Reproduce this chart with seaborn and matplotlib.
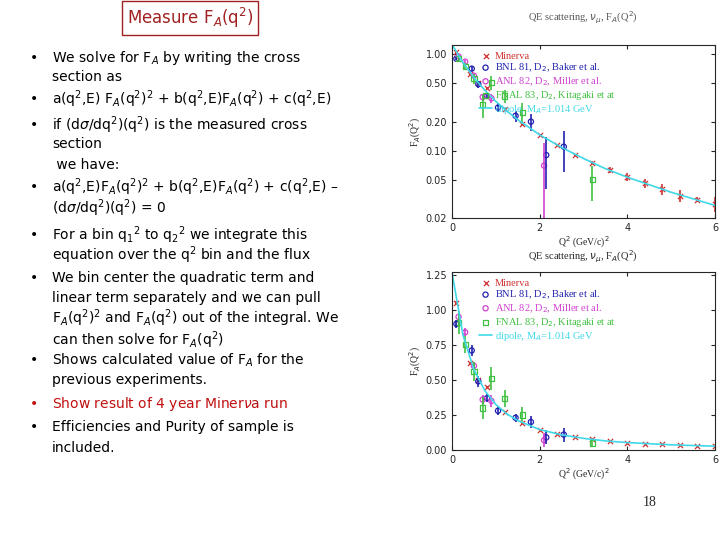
import numpy as np
import pandas as pd
import seaborn as sns
import matplotlib.pyplot as plt

sns.set_style("ticks")
plt.rcParams['font.family'] = ['DejaVu Sans']

# dipole curve, M_A = 1.014 GeV
dip_q2 = [0, 0.25, 0.5, 0.75, 1.0, 1.25, 1.5, 2.0, 2.5, 3.0, 3.5, 4.0, 5.0, 6.0]
dip_fa = [1.267, 0.820, 0.574, 0.423, 0.325, 0.258, 0.210, 0.146, 0.108, 0.083, 0.065, 0.053, 0.037, 0.027]

min_q2 = [0.1, 0.4, 0.6, 0.8, 1.2, 1.6, 2.0, 2.4, 2.8, 3.2, 3.6, 4.0, 4.4, 4.8, 5.2, 5.6, 6.0]
min_fa = [1.05, 0.62, 0.50, 0.45, 0.27, 0.19, 0.145, 0.115, 0.09, 0.075, 0.063, 0.053, 0.046, 0.040, 0.034, 0.031, 0.028]
min_err = [0.01, 0.01, 0.01, 0.01, 0.005, 0.004, 0.003, 0.003, 0.003, 0.003, 0.004, 0.005, 0.005, 0.005, 0.005, 0.002, 0.005]

bnl_q2 = [0.1, 0.45, 0.6, 0.8, 1.05, 1.45, 1.8, 2.15, 2.55]
bnl_fa = [0.90, 0.71, 0.49, 0.37, 0.28, 0.23, 0.20, 0.09, 0.11]
bnl_err = [0.03, 0.04, 0.04, 0.03, 0.03, 0.03, 0.04, 0.05, 0.05]

anl_q2 = [0.15, 0.3, 0.5, 0.7, 0.9, 2.1]
anl_fa = [0.95, 0.84, 0.60, 0.36, 0.35, 0.07]
anl_err = [0.03, 0.03, 0.03, 0.03, 0.04, 0.05]

fnal_q2 = [0.15, 0.3, 0.5, 0.7, 0.9, 1.2, 1.6, 3.2]
fnal_fa = [0.91, 0.75, 0.56, 0.30, 0.51, 0.37, 0.25, 0.05]
fnal_err = [0.08, 0.06, 0.07, 0.08, 0.08, 0.06, 0.06, 0.02]

series = [
    ("Minerva", min_q2, min_fa, min_err, "x", "#d03030"),
    (r"BNL 81, D$_2$, Baker et al.", bnl_q2, bnl_fa, bnl_err, "o", "#2020b0"),
    (r"ANL 82, D$_2$, Miller et al.", anl_q2, anl_fa, anl_err, "o", "#d040d0"),
    (r"FNAL 83, D$_2$, Kitagaki et at", fnal_q2, fnal_fa, fnal_err, "s", "#40c040"),
]
leg_colors = ["#d03030", "#2020b0", "#d040d0", "#40c040", "#40d8e8"]

fig = plt.figure(figsize=(7.2, 5.4), dpi=100)

# ---- left text block ----
fig.text(190 / 720, 1 - 18 / 540, r"Measure F$_A$(q$^2$)", color="#a02020", fontsize=12,
         ha="center", va="center",
         bbox=dict(boxstyle="square,pad=0.3", fc="white", ec="#a02020", lw=1))

lines = [
    (58, True, r"We solve for F$_A$ by writing the cross", "black"),
    (77, False, "section as", "black"),
    (99, True, r"a(q$^2$,E) F$_A$(q$^2$)$^2$ + b(q$^2$,E)F$_A$(q$^2$) + c(q$^2$,E)", "black"),
    (125, True, r"if (d$\sigma$/dq$^2$)(q$^2$) is the measured cross", "black"),
    (144, False, "section", "black"),
    (165, False, " we have:", "black"),
    (187, True, r"a(q$^2$,E)F$_A$(q$^2$)$^2$ + b(q$^2$,E)F$_A$(q$^2$) + c(q$^2$,E) –", "black"),
    (208, False, r"(d$\sigma$/dq$^2$)(q$^2$) = 0", "black"),
    (235, True, r"For a bin q$_1$$^2$ to q$_2$$^2$ we integrate this", "black"),
    (255, False, r"equation over the q$^2$ bin and the flux", "black"),
    (278, True, "We bin center the quadratic term and", "black"),
    (298, False, "linear term separately and we can pull", "black"),
    (318, False, r"F$_A$(q$^2$)$^2$ and F$_A$(q$^2$) out of the integral. We", "black"),
    (340, False, r"can then solve for F$_A$(q$^2$)", "black"),
    (360, True, r"Shows calculated value of F$_A$ for the", "black"),
    (380, False, "previous experiments.", "black"),
    (404, True, r"Show result of 4 year Miner$\nu$a run", "#c01010"),
    (427, True, "Efficiencies and Purity of sample is", "black"),
    (448, False, "included.", "black"),
]
for y, bullet, txt, col in lines:
    if bullet:
        fig.text(30 / 720, 1 - y / 540, "•", fontsize=10, color=col, va="center")
    fig.text(52 / 720, 1 - y / 540, txt, fontsize=10, color=col, va="center")

fig.text(650 / 720, 1 - 503 / 540, "18", fontsize=10, family="Liberation Serif",
         ha="center", va="center")


def draw_panel(ax):
    for name, q, f, e, m, c in series:
        ax.errorbar(q, f, yerr=e, fmt="none", ecolor=c, elinewidth=1.2)
        sns.scatterplot(x=q, y=f, marker=m, color=c, s=14, ax=ax,
                        facecolor="none" if m != "x" else c, edgecolor=c,
                        linewidth=0.9, label=name)
    sns.lineplot(x=dip_q2, y=dip_fa, color="#40d8e8", lw=1.2, ax=ax,
                 label=r"dipole, M$_A$=1.014 GeV")
    ax.set_xlim(0, 6)
    ax.set_xticks([0, 2, 4, 6])
    ax.tick_params(labelsize=7, direction="in", top=True, right=True, length=3)
    ax.set_xlabel(r"Q$^2$ (GeV/c)$^2$", fontsize=7, labelpad=1, family="Liberation Serif")
    ax.set_ylabel(r"F$_A$(Q$^2$)", fontsize=7, labelpad=2, family="Liberation Serif")
    leg = ax.legend(loc="upper left", bbox_to_anchor=(0.08, 1.0),
                    prop={"family": "Liberation Serif", "size": 7.5},
                    frameon=False, handletextpad=0.3, borderaxespad=0.2,
                    labelspacing=0.1, handlelength=1.2)
    for t, c in zip(leg.get_texts(), leg_colors):
        t.set_color(c)


ax1 = fig.add_axes([452 / 720, 1 - 218 / 540, 263 / 720, 173 / 540])
ax1.set_yscale("log")
ax1.set_ylim(0.02, 1.25)
ax1.set_yticks([0.02, 0.05, 0.1, 0.2, 0.5, 1.0])
ax1.set_yticklabels(["0.02", "0.05", "0.10", "0.20", "0.50", "1.00"])
ax1.minorticks_off()
draw_panel(ax1)
fig.text(583 / 720, 1 - 18 / 540, r"QE scattering, $\nu_\mu$, F$_A$(Q$^2$)", fontsize=7.5,
         ha="center", va="center", color="#555555", family="Liberation Serif")

ax2 = fig.add_axes([452 / 720, 1 - 450 / 540, 263 / 720, 178 / 540])
ax2.set_ylim(0, 1.27)
ax2.set_yticks([0, 0.25, 0.5, 0.75, 1.0, 1.25])
ax2.set_yticklabels(["0.00", "0.25", "0.50", "0.75", "1.00", "1.25"])
draw_panel(ax2)
fig.text(583 / 720, 1 - 257 / 540, r"QE scattering, $\nu_\mu$, F$_A$(Q$^2$)", fontsize=7.5,
         ha="center", va="center", family="Liberation Serif")

fig.savefig("out.png", dpi=100)
